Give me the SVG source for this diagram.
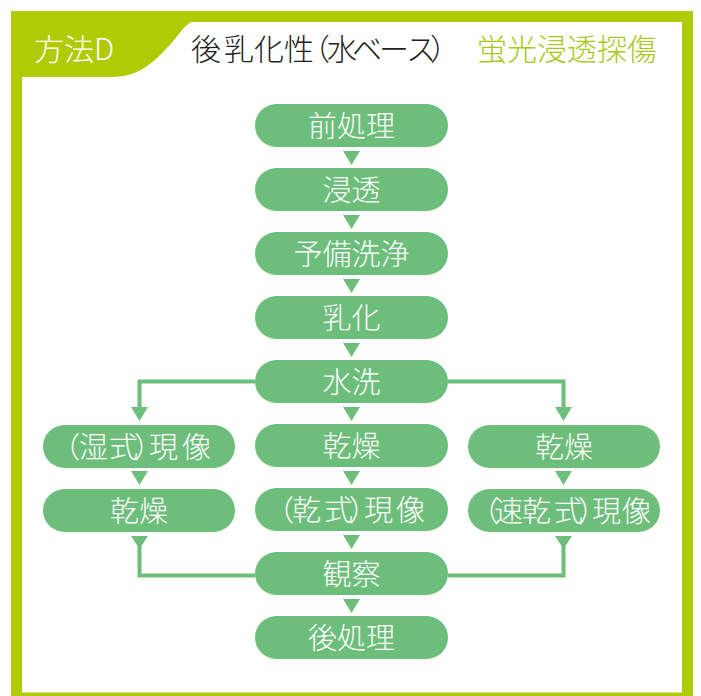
<svg xmlns="http://www.w3.org/2000/svg" width="701" height="696" viewBox="0 0 701 696">
<style>
.nd{fill:#6dbe7b}
.t{font-family:"Noto Sans CJK JP","Noto Sans CJK SC",sans-serif;font-size:29px;fill:#ffffff;font-weight:300}
.tm{text-anchor:middle}
.ln{fill:none;stroke:#6dbe7b;stroke-width:4}
.ah{fill:#6dbe7b}
.hd{font-family:"Noto Sans CJK JP","Noto Sans CJK SC",sans-serif;font-size:30px;font-weight:300}
</style>
<g id="frame">
<rect x="11" y="11" width="682" height="700" fill="#aecb05"/>
<rect x="22" y="22" width="660" height="670.5" fill="#ffffff"/>
<path d="M22,21 H193 C182,26 176,40 165,50 C150,66 135,77 112,77 H22 Z" fill="#aecb05"/>
</g>
<g id="header">
<text class="hd" x="34" y="60" fill="#ffffff" font-size="28">方法D</text>
<text class="hd" x="191 224 254 284 300 327 352 379 406 430" y="60" fill="#231f20">後乳化性（水ベース）</text>
<text class="hd" x="477" y="60" fill="#a8c81a">蛍光浸透探傷</text>
</g>
<g id="connectors">
<polyline class="ln" points="255,381.5 139.5,381.5 139.5,408"/>
<polyline class="ln" points="448,381.5 563.5,381.5 563.5,408"/>
<polyline class="ln" points="139.5,546 139.5,575.5 255,575.5"/>
<polyline class="ln" points="563.5,546 563.5,575.5 448,575.5"/>
<polygon class="ah" points="343,151 360,151 351.5,165"/>
<polygon class="ah" points="343,215 360,215 351.5,229"/>
<polygon class="ah" points="343,279 360,279 351.5,293"/>
<polygon class="ah" points="343,343 360,343 351.5,357"/>
<polygon class="ah" points="343,407 360,407 351.5,421"/>
<polygon class="ah" points="343,471 360,471 351.5,485"/>
<polygon class="ah" points="343,535 360,535 351.5,549"/>
<polygon class="ah" points="343,599 360,599 351.5,613"/>
<polygon class="ah" points="131,407 148,407 139.5,421"/>
<polygon class="ah" points="555,407 572,407 563.5,421"/>
<polygon class="ah" points="131,471 148,471 139.5,485"/>
<polygon class="ah" points="555,471 572,471 563.5,485"/>
<polygon class="ah" points="131,536 148,536 139.5,549"/>
<polygon class="ah" points="555,536 572,536 563.5,549"/>
</g>
<g id="n1"><rect class="nd" x="255" y="104" width="193" height="43" rx="21.5"/><text class="t tm" x="351.5" y="137">前処理</text></g>
<g id="n2"><rect class="nd" x="255" y="168" width="193" height="43" rx="21.5"/><text class="t tm" x="351.5" y="201">浸透</text></g>
<g id="n3"><rect class="nd" x="255" y="232" width="193" height="43" rx="21.5"/><text class="t tm" x="351.5" y="265">予備洗浄</text></g>
<g id="n4"><rect class="nd" x="255" y="296" width="193" height="43" rx="21.5"/><text class="t tm" x="351.5" y="329">乳化</text></g>
<g id="n5"><rect class="nd" x="255" y="360" width="193" height="43" rx="21.5"/><text class="t tm" x="351.5" y="393">水洗</text></g>
<g id="n6"><rect class="nd" x="255" y="424" width="193" height="43" rx="21.5"/><text class="t tm" x="351.5" y="457">乾燥</text></g>
<g id="n7"><rect class="nd" x="255" y="488" width="193" height="43" rx="21.5"/><text class="t" x="265 292 324 349 364 396" y="521">（乾式）現像</text></g>
<g id="n8"><rect class="nd" x="255" y="552" width="193" height="43" rx="21.5"/><text class="t tm" x="351.5" y="585">観察</text></g>
<g id="n9"><rect class="nd" x="255" y="616" width="193" height="43" rx="21.5"/><text class="t tm" x="351.5" y="649">後処理</text></g>
<g id="l1"><rect class="nd" x="43" y="425" width="192" height="43" rx="21.5"/><text class="t" x="51 79 109 134 149 182" y="458">（湿式）現像</text></g>
<g id="l2"><rect class="nd" x="43" y="489" width="192" height="43" rx="21.5"/><text class="t tm" x="139" y="522">乾燥</text></g>
<g id="r1"><rect class="nd" x="468" y="425" width="192" height="43" rx="21.5"/><text class="t tm" x="564" y="458">乾燥</text></g>
<g id="r2"><rect class="nd" x="468" y="489" width="192" height="43" rx="21.5"/><text class="t" x="470 494 522 554 578 592 622" y="522">（速乾式）現像</text></g>
</svg>
